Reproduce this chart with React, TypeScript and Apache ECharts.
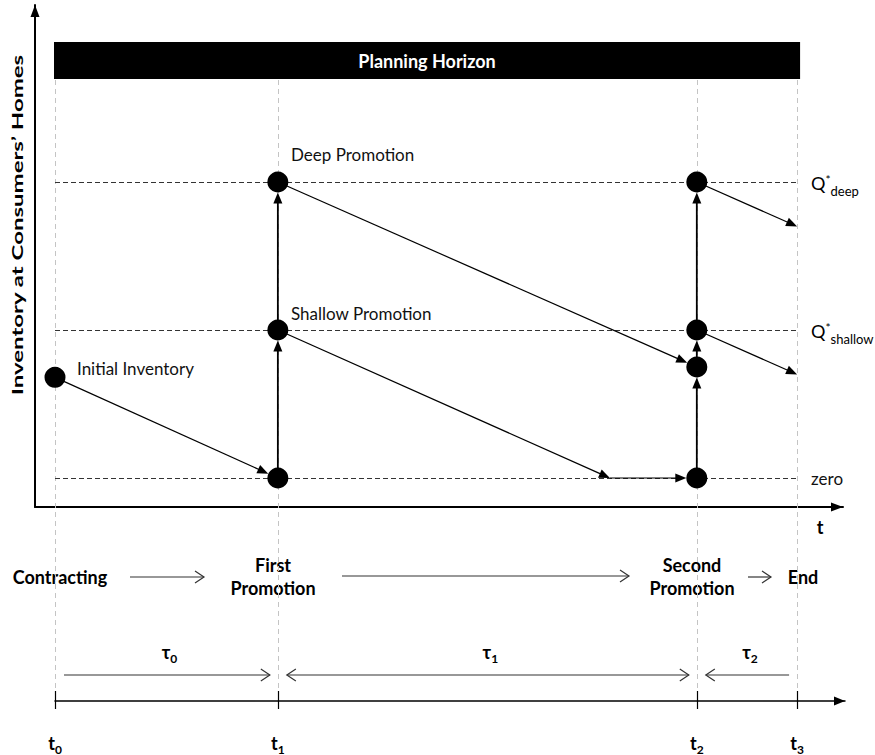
import React, { useEffect, useRef } from "react";
import * as echarts from "echarts";

// ---- data ----
// time points t0..t3 (time units)
const timePoints = [0, 10, 28.8, 33.3];
const timeSubscripts = ["0", "1", "2", "3"];
const timeAxisEnd = 35.45;

// inventory levels: zero, Q*shallow, Q*deep
const levelValues = [0, 1, 2];
const levelNames = ["zero", "shallow", "deep"];
const inventoryAxisMax = 2;

// inventory states (dots): [time, inventory]
const inventoryStates = [
  [0, 0.68],
  [10, 0],
  [10, 1],
  [10, 2],
  [28.8, 2],
  [28.8, 1],
  [28.8, 0.75],
  [28.8, 0],
];

// consumption arrows: [fromT, fromQ, toT, toQ, endsOnDot]
const consumptionArrows = [
  [0, 0.68, 10, 0, 1],
  [10, 1, 24.9, 0, 0],
  [24.9, 0, 28.8, 0, 1],
  [10, 2, 28.8, 0.75, 1],
  [28.8, 2, 33.3, 1.7, 0],
  [28.8, 1, 33.3, 0.7, 0],
];

// order-up arrows at promotions: [t, fromQ, t, toQ, endsOnDot]
const orderArrows = [
  [10, 0, 10, 1, 1],
  [10, 1, 10, 2, 1],
  [28.8, 0, 28.8, 0.75, 1],
  [28.8, 0.75, 28.8, 1, 1],
  [28.8, 1, 28.8, 2, 1],
];

// durations between time points: [start, end]
const durations = [
  [0, 10],
  [10, 28.8],
  [28.8, 33.3],
];
const durationSubscripts = ["0", "1", "2"];
const durationHeads = ["end", "both", "start"];

const annotations = ["Deep Promotion", "Shallow Promotion", "Initial Inventory"];
const phaseNames = ["Contracting", "First\nPromotion", "Second\nPromotion", "End"];

// ---- styles ----
const FONT = "Lato, 'Open Sans', 'DejaVu Sans', sans-serif";
const DOT_R = 10.5;
const HEAD_L = 11;
const HEAD_W = 4.5;

function arrowShapes(api: any, lineWidth: number) {
  const a = api.coord([api.value(0), api.value(1)]);
  const b = api.coord([api.value(2), api.value(3)]);
  const onDot = api.value(4) === 1;
  const dx = b[0] - a[0];
  const dy = b[1] - a[1];
  const len = Math.hypot(dx, dy) || 1;
  const ux = dx / len;
  const uy = dy / len;
  const off = onDot ? DOT_R : 0;
  const tip = [b[0] - ux * off, b[1] - uy * off];
  const base = [tip[0] - ux * HEAD_L, tip[1] - uy * HEAD_L];
  const nx = -uy;
  const ny = ux;
  return {
    type: "group",
    children: [
      {
        type: "line",
        shape: { x1: a[0], y1: a[1], x2: base[0] + ux * 2, y2: base[1] + uy * 2 },
        style: { stroke: "#000", lineWidth },
      },
      {
        type: "polygon",
        shape: {
          points: [
            tip,
            [base[0] + nx * HEAD_W, base[1] + ny * HEAD_W],
            [base[0] - nx * HEAD_W, base[1] - ny * HEAD_W],
          ],
        },
        style: { fill: "#000" },
      },
    ],
  };
}

function chevron(tipX: number, y: number, dir: number) {
  return {
    type: "polyline",
    shape: {
      points: [
        [tipX - dir * 9, y - 6],
        [tipX, y],
        [tipX - dir * 9, y + 6],
      ],
    },
    style: { stroke: "#333", lineWidth: 1.2, fill: null },
  };
}

function phaseArrow(x1: number, x2: number, y: number) {
  return {
    type: "group",
    children: [
      { type: "line", shape: { x1, y1: y, x2, y2: y }, style: { stroke: "#333", lineWidth: 1.2 } },
      chevron(x2, y, 1),
    ],
  };
}

const boldText = (text: string, x: number, y: number, size = 18) => ({
  type: "text",
  x,
  y,
  style: {
    text,
    fill: "#000",
    fontFamily: FONT,
    fontWeight: "bold",
    fontSize: size,
    lineHeight: 23,
    align: "center",
    verticalAlign: "middle",
  },
});

const plainText = (text: string, x: number, y: number) => ({
  type: "text",
  x,
  y,
  style: {
    text,
    fill: "#111",
    fontFamily: FONT,
    fontSize: 17,
    align: "left",
    verticalAlign: "middle",
  },
});

const subRich = {
  t: { fontFamily: FONT, fontWeight: "bold", fontSize: 18, lineHeight: 24, color: "#000" },
  s: {
    fontFamily: FONT,
    fontWeight: "bold",
    fontSize: 12,
    lineHeight: 12,
    verticalAlign: "bottom",
    color: "#000",
  },
};

function buildOption() {
  return {
    animation: false,
    backgroundColor: "#fff",
    grid: [
      { left: 55, right: 30, top: 182, bottom: 276 },
      { left: 35, right: 32, top: 5, bottom: 248 },
    ],
    xAxis: [
      {
        gridIndex: 0,
        type: "value",
        min: 0,
        max: timeAxisEnd,
        position: "bottom",
        offset: 223,
        splitLine: { show: false },
        axisLine: {
          show: true,
          onZero: false,
          lineStyle: { color: "#000", width: 1.5 },
          symbol: ["none", "triangle"],
          symbolSize: [9, 11],
          symbolOffset: [0, -5.5],
        },
        axisTick: {
          show: true,
          customValues: timePoints,
          length: 8,
          lineStyle: { color: "#000", width: 1.2 },
        },
        axisLabel: {
          show: true,
          customValues: timePoints,
          margin: 30,
          formatter: (v: number) => {
            const i = timePoints.indexOf(v);
            return `{t|t}{s|${timeSubscripts[i] ?? ""}}`;
          },
          rich: subRich,
        },
      },
      {
        gridIndex: 0,
        type: "value",
        min: 0,
        max: timeAxisEnd,
        position: "bottom",
        offset: 223,
        splitLine: { show: false },
        axisLine: { show: false, onZero: false },
        axisTick: {
          show: true,
          inside: true,
          customValues: timePoints,
          length: 10,
          lineStyle: { color: "#000", width: 1.2 },
        },
        axisLabel: { show: false },
      },
      {
        gridIndex: 1,
        type: "value",
        min: 0,
        max: 1,
        splitLine: { show: false },
        axisTick: { show: false },
        axisLabel: { show: false },
        axisLine: {
          show: true,
          onZero: false,
          lineStyle: { color: "#000", width: 2 },
          symbol: ["none", "triangle"],
          symbolSize: [9, 12],
          symbolOffset: [0, -6],
        },
      },
    ],
    yAxis: [
      {
        gridIndex: 0,
        type: "value",
        min: 0,
        max: inventoryAxisMax,
        show: false,
      },
      {
        gridIndex: 1,
        type: "value",
        min: 0,
        max: 1,
        splitLine: { show: false },
        axisTick: { show: false },
        axisLabel: { show: false },
        axisLine: {
          show: true,
          onZero: false,
          lineStyle: { color: "#000", width: 2 },
          symbol: ["none", "triangle"],
          symbolSize: [9, 12],
          symbolOffset: [0, -6],
        },
      },
    ],
    series: [
      // vertical grey guides at time points
      {
        type: "custom",
        xAxisIndex: 0,
        yAxisIndex: 0,
        silent: true,
        clip: false,
        z: 1,
        data: timePoints.map((t) => [t, 0]),
        renderItem: (_p: any, api: any) => {
          const x = Math.round(api.coord([api.value(0), 0])[0]) + 0.5;
          return {
            type: "line",
            shape: { x1: x, y1: 80, x2: x, y2: 692 },
            style: { stroke: "#c4c4c4", lineWidth: 1, lineDash: [5, 4] },
          };
        },
      },
      // planning horizon bar
      {
        type: "custom",
        xAxisIndex: 0,
        yAxisIndex: 0,
        silent: true,
        clip: false,
        z: 2,
        data: [[timePoints[0], timePoints[3]]],
        renderItem: (_p: any, api: any) => {
          const x1 = api.coord([api.value(0), 0])[0] - 1;
          const x2 = api.coord([api.value(1), 0])[0] + 3;
          return {
            type: "group",
            children: [
              { type: "rect", shape: { x: x1, y: 42, width: x2 - x1, height: 37 }, style: { fill: "#000" } },
              {
                type: "text",
                x: (x1 + x2) / 2,
                y: 61,
                style: {
                  text: "Planning Horizon",
                  fill: "#fff",
                  fontFamily: FONT,
                  fontWeight: "bold",
                  fontSize: 18,
                  align: "center",
                  verticalAlign: "middle",
                },
              },
            ],
          };
        },
      },
      // level dashed lines + labels
      {
        type: "custom",
        xAxisIndex: 0,
        yAxisIndex: 0,
        silent: true,
        clip: false,
        z: 2,
        data: levelValues.map((v, i) => [v, i]),
        renderItem: (_p: any, api: any) => {
          const v = api.value(0);
          const i = api.value(1);
          const p1 = api.coord([timePoints[0], v]);
          const p2 = api.coord([timePoints[3], v]);
          const y = Math.round(p1[1]) + 0.5;
          const name = levelNames[i];
          const label =
            name === "zero"
              ? {
                  type: "text",
                  x: p2[0] + 14,
                  y,
                  style: {
                    text: "zero",
                    fill: "#111",
                    fontFamily: FONT,
                    fontSize: 17,
                    align: "left",
                    verticalAlign: "middle",
                  },
                }
              : {
                  type: "text",
                  x: p2[0] + 14,
                  y: y + 3,
                  style: {
                    text: `{q|Q}{a|*}{b|${name}}`,
                    align: "left",
                    verticalAlign: "middle",
                    rich: {
                      q: { fontFamily: FONT, fontSize: 18, lineHeight: 24, color: "#111", verticalAlign: "top" },
                      a: { fontFamily: FONT, fontSize: 12, lineHeight: 12, color: "#111", verticalAlign: "top" },
                      b: { fontFamily: FONT, fontSize: 13, lineHeight: 14, color: "#111", verticalAlign: "bottom" },
                    },
                  },
                };
          return {
            type: "group",
            children: [
              {
                type: "line",
                shape: { x1: p1[0], y1: y, x2: p2[0], y2: y },
                style: { stroke: "#333", lineWidth: 1.1, lineDash: [5, 3] },
              },
              label,
            ],
          };
        },
      },
      // consumption arrows
      {
        type: "custom",
        xAxisIndex: 0,
        yAxisIndex: 0,
        silent: true,
        clip: false,
        z: 3,
        data: consumptionArrows,
        renderItem: (_p: any, api: any) => arrowShapes(api, 1.2),
      },
      // order arrows
      {
        type: "custom",
        xAxisIndex: 0,
        yAxisIndex: 0,
        silent: true,
        clip: false,
        z: 3,
        data: orderArrows,
        renderItem: (_p: any, api: any) => arrowShapes(api, 1.8),
      },
      // inventory state dots
      {
        type: "scatter",
        xAxisIndex: 0,
        yAxisIndex: 0,
        silent: true,
        clip: false,
        z: 5,
        symbol: "circle",
        symbolSize: DOT_R * 2,
        itemStyle: { color: "#000", opacity: 1 },
        data: inventoryStates,
      },
      // durations tau
      {
        type: "custom",
        xAxisIndex: 0,
        yAxisIndex: 0,
        silent: true,
        clip: false,
        z: 3,
        data: durations.map((d, i) => [d[0], d[1], i]),
        renderItem: (_p: any, api: any) => {
          const i = api.value(2);
          const x1 = api.coord([api.value(0), 0])[0];
          const x2 = api.coord([api.value(1), 0])[0];
          const a = x1 + 9;
          const b = x2 - 8;
          const y = 675;
          const head = durationHeads[i];
          const children: any[] = [
            { type: "line", shape: { x1: a, y1: y, x2: b, y2: y }, style: { stroke: "#333", lineWidth: 1.2 } },
          ];
          if (head === "end" || head === "both") children.push(chevron(b, y, 1));
          if (head === "start" || head === "both") children.push(chevron(a, y, -1));
          children.push({
            type: "text",
            x: (x1 + x2) / 2 + 3,
            y: 652,
            style: {
              text: `{t|\u03c4}{s|${durationSubscripts[i]}}`,
              align: "center",
              verticalAlign: "middle",
              rich: subRich,
            },
          });
          return { type: "group", children };
        },
      },
    ],
    graphic: [
      // y axis title
      {
        type: "text",
        x: 17,
        y: 225,
        rotation: Math.PI / 2,
        scaleX: 1.5,
        style: {
          text: "Inventory at Consumers\u2019 Homes",
          fill: "#000",
          fontFamily: FONT,
          fontWeight: "bold",
          fontSize: 16,
          align: "center",
          verticalAlign: "middle",
        },
      },
      boldText("t", 820, 527),
      plainText(annotations[0], 291, 154),
      plainText(annotations[1], 291, 313),
      plainText(annotations[2], 77, 368),
      boldText(phaseNames[0], 60, 577),
      boldText(phaseNames[1], 273, 576),
      boldText(phaseNames[2], 692, 576),
      boldText(phaseNames[3], 803, 577),
      phaseArrow(130, 204, 577),
      phaseArrow(342, 629, 576),
      phaseArrow(748, 771, 577),
    ],
  };
}

export default function App() {
  const ref = useRef<HTMLDivElement>(null);
  useEffect(() => {
    if (!ref.current) return;
    const chart = echarts.init(ref.current, null, { renderer: "svg" });
    chart.setOption(buildOption() as any);
    return () => chart.dispose();
  }, []);
  return (
    <div
      ref={ref}
      style={{ position: "fixed", left: 0, top: 0, width: 875, height: 755, background: "#fff" }}
    />
  );
}
